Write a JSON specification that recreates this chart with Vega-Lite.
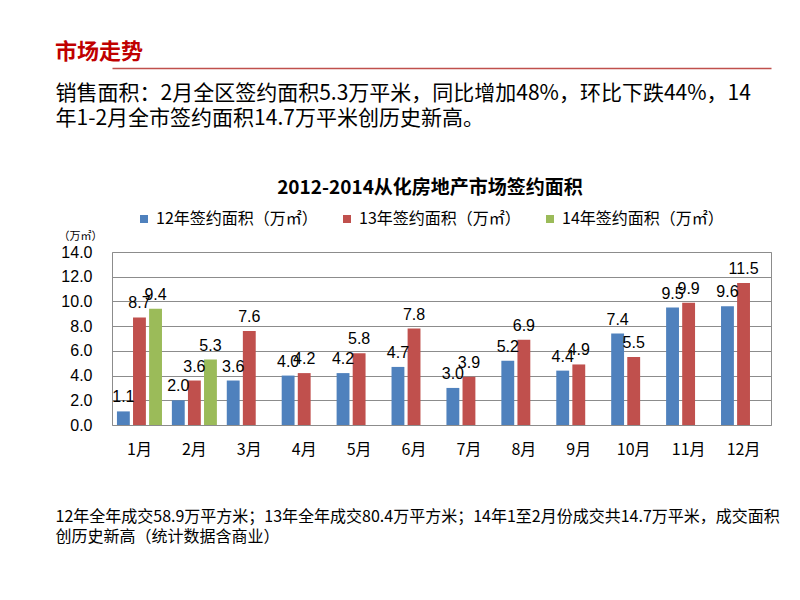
{
  "$schema": "https://vega.github.io/schema/vega-lite/v6.json",
  "width": 659,
  "height": 173,
  "autosize": {"type": "none"},
  "padding": {"left": 112, "top": 252, "right": 29, "bottom": 175},
  "background": "white",
  "title": {
    "text": "市场走势",
    "anchor": "start",
    "frame": "group",
    "dx": -57,
    "offset": 4,
    "color": "#C00000",
    "font": "Noto Sans CJK SC",
    "fontSize": 22,
    "fontWeight": "bold"
  },
  "data": {
    "values": [
      {"month": "1月", "series": "12年签约面积（万㎡）", "value": 1.1},
      {"month": "2月", "series": "12年签约面积（万㎡）", "value": 2.0},
      {"month": "3月", "series": "12年签约面积（万㎡）", "value": 3.6},
      {"month": "4月", "series": "12年签约面积（万㎡）", "value": 4.0},
      {"month": "5月", "series": "12年签约面积（万㎡）", "value": 4.2},
      {"month": "6月", "series": "12年签约面积（万㎡）", "value": 4.7},
      {"month": "7月", "series": "12年签约面积（万㎡）", "value": 3.0},
      {"month": "8月", "series": "12年签约面积（万㎡）", "value": 5.2},
      {"month": "9月", "series": "12年签约面积（万㎡）", "value": 4.4},
      {"month": "10月", "series": "12年签约面积（万㎡）", "value": 7.4},
      {"month": "11月", "series": "12年签约面积（万㎡）", "value": 9.5},
      {"month": "12月", "series": "12年签约面积（万㎡）", "value": 9.6},
      {"month": "1月", "series": "13年签约面积（万㎡）", "value": 8.7},
      {"month": "2月", "series": "13年签约面积（万㎡）", "value": 3.6},
      {"month": "3月", "series": "13年签约面积（万㎡）", "value": 7.6},
      {"month": "4月", "series": "13年签约面积（万㎡）", "value": 4.2},
      {"month": "5月", "series": "13年签约面积（万㎡）", "value": 5.8},
      {"month": "6月", "series": "13年签约面积（万㎡）", "value": 7.8},
      {"month": "7月", "series": "13年签约面积（万㎡）", "value": 3.9},
      {"month": "8月", "series": "13年签约面积（万㎡）", "value": 6.9},
      {"month": "9月", "series": "13年签约面积（万㎡）", "value": 4.9},
      {"month": "10月", "series": "13年签约面积（万㎡）", "value": 5.5},
      {"month": "11月", "series": "13年签约面积（万㎡）", "value": 9.9},
      {"month": "12月", "series": "13年签约面积（万㎡）", "value": 11.5},
      {"month": "1月", "series": "14年签约面积（万㎡）", "value": 9.4},
      {"month": "2月", "series": "14年签约面积（万㎡）", "value": 5.3}
    ]
  },
  "encoding": {
    "y": {
      "field": "value",
      "type": "quantitative",
      "scale": {"domain": [0, 14], "nice": false},
      "axis": {
        "values": [0, 2, 4, 6, 8, 10, 12, 14],
        "format": ".1f",
        "ticks": false,
        "domain": false,
        "grid": true,
        "gridColor": "#8c8c8c",
        "gridOpacity": 1,
        "labelFont": "Liberation Sans",
        "labelFontSize": 16,
        "labelColor": "#000000",
        "labelPadding": 20,
        "title": "（万㎡）",
        "titleAngle": 0,
        "titleAlign": "left",
        "titleBaseline": "middle",
        "titleX": -54,
        "titleY": -16,
        "titleFont": "Noto Sans CJK SC",
        "titleFontSize": 11,
        "titleFontWeight": "normal",
        "titleColor": "#000000"
      }
    },
    "xOffset": {
      "field": "series",
      "type": "nominal",
      "scale": {
        "domain": ["12年签约面积（万㎡）", "13年签约面积（万㎡）", "14年签约面积（万㎡）"],
        "paddingInner": 0.2,
        "paddingOuter": 0
      }
    }
  },
  "layer": [
    {
      "mark": {"type": "bar"},
      "encoding": {
        "x": {
          "field": "month",
          "type": "nominal",
          "scale": {
            "domain": ["1月", "2月", "3月", "4月", "5月", "6月", "7月", "8月", "9月", "10月", "11月", "12月"],
            "paddingInner": 0.18,
            "paddingOuter": 0.09
          },
          "axis": {
            "orient": "bottom",
            "labelAngle": 0,
            "labelFont": "Noto Sans CJK SC",
            "labelFontSize": 16,
            "labelColor": "#000000",
            "labelPadding": 16,
            "ticks": false,
            "domain": false,
            "grid": false,
            "title": [
              "12年全年成交58.9万平方米；13年全年成交80.4万平方米；14年1至2月份成交共14.7万平米，成交面积",
              "创历史新高（统计数据含商业）"
            ],
            "titleAnchor": "start",
            "titleAlign": "left",
            "titleBaseline": "top",
            "titleX": -57,
            "titleY": 83,
            "titleFont": "Noto Sans CJK SC",
            "titleFontSize": 16,
            "titleFontWeight": "normal",
            "titleColor": "#000000",
            "titleLineHeight": 20
          }
        },
        "color": {
          "field": "series",
          "type": "nominal",
          "scale": {
            "domain": ["12年签约面积（万㎡）", "13年签约面积（万㎡）", "14年签约面积（万㎡）"],
            "range": ["#4F81BD", "#C0504D", "#9BBB59"]
          },
          "legend": {
            "orient": "none",
            "legendX": 24,
            "legendY": -73,
            "direction": "horizontal",
            "columns": 3,
            "title": "2012-2014从化房地产市场签约面积",
            "titleOrient": "top",
            "titleAnchor": "middle",
            "titleFont": "Noto Sans CJK SC",
            "titleFontSize": 19,
            "titleFontWeight": "bold",
            "titleColor": "#000000",
            "titlePadding": 13,
            "titleLimit": 600,
            "symbolType": "square",
            "symbolSize": 64,
            "symbolStrokeWidth": 0,
            "labelFont": "Noto Sans CJK SC",
            "labelFontSize": 16,
            "labelColor": "#000000",
            "labelOffset": 4,
            "labelLimit": 400,
            "columnPadding": 21,
            "padding": 0
          }
        }
      }
    },
    {
      "mark": {"type": "text", "baseline": "alphabetic", "dy": -9, "font": "Liberation Sans", "fontSize": 16, "color": "#000000"},
      "encoding": {
        "x": {
          "field": "month",
          "type": "nominal",
          "axis": {
            "orient": "top",
            "offset": 184,
            "labels": false,
            "ticks": false,
            "grid": false,
            "domain": true,
            "domainColor": "#C0504D",
            "domainWidth": 1.5,
            "title": [
              "销售面积：2月全区签约面积5.3万平米，同比增加48%，环比下跌44%，14",
              "年1-2月全市签约面积14.7万平米创历史新高。"
            ],
            "titleAnchor": "start",
            "titleAlign": "left",
            "titleBaseline": "top",
            "titleX": -57,
            "titleY": 14,
            "titleFont": "Noto Sans CJK SC",
            "titleFontSize": 21,
            "titleFontWeight": "normal",
            "titleColor": "#000000",
            "titleLineHeight": 25
          }
        },
        "text": {"field": "value", "type": "quantitative", "format": ".1f"}
      }
    }
  ],
  "resolve": {"axis": {"x": "independent"}},
  "config": {
    "view": {"stroke": "#8c8c8c", "strokeWidth": 1}
  }
}
